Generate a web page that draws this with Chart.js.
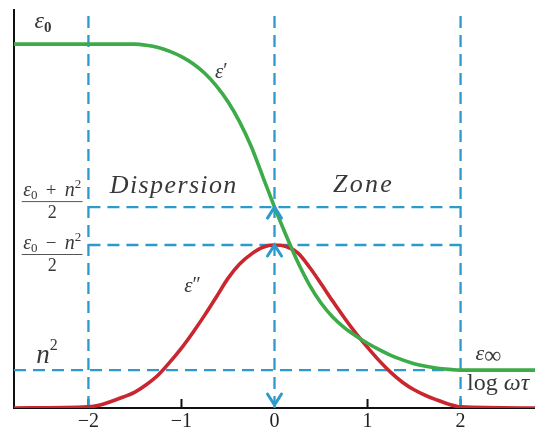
<!DOCTYPE html>
<html>
<head>
<meta charset="utf-8">
<script src="https://cdn.jsdelivr.net/npm/chart.js@4.4.1/dist/chart.umd.min.js"></script>
<style>
  html, body { margin: 0; padding: 0; background: #fff; }
  #wrap { width: 535px; height: 432px; }
</style>
</head>
<body>
<div id="wrap"><canvas id="c"></canvas></div>
<script>
// Debye relaxation: real and imaginary permittivity against log(ωτ)
const logWT = [-2.8, -2.0, -1.875, -1.75, -1.625, -1.5, -1.375, -1.25, -1.125, -1.0, -0.875, -0.75, -0.625, -0.5, -0.375, -0.25, -0.125,
               0, 0.125, 0.25, 0.375, 0.5, 0.625, 0.75, 0.875, 1.0, 1.125, 1.25, 1.375, 1.5, 1.625, 1.75, 1.875, 2.0, 2.8];
const epsReal = [9.6, 9.6, 9.6, 9.6, 9.6, 9.6, 9.57, 9.51, 9.41, 9.27, 9.08, 8.83, 8.5, 8.08, 7.55, 6.9, 6.1,
                 5.3, 4.55, 3.85, 3.25, 2.77, 2.4, 2.12, 1.9, 1.71, 1.54, 1.39, 1.27, 1.17, 1.1, 1.05, 1.02, 1.0, 1.0];
const epsImag = [0, 0.03, 0.08, 0.18, 0.29, 0.42, 0.62, 0.87, 1.21, 1.58, 2.0, 2.45, 2.93, 3.42, 3.8, 4.06, 4.24,
                 4.3, 4.26, 4.09, 3.72, 3.28, 2.82, 2.38, 1.97, 1.6, 1.25, 0.94, 0.68, 0.48, 0.33, 0.21, 0.1, 0.03, 0];

// characteristic levels: ε0, (ε0+n²)/2, (ε0−n²)/2, n²
const levelNames  = ['eps0', 'midHigh', 'midLow', 'nSq'];
const levelValues = [9.6, 5.3, 4.3, 1.0];
const L = Object.fromEntries(levelNames.map((n, i) => [n, levelValues[i]]));

const xTicks = [-2, -1, 0, 1, 2];
const guideX = [-2, 0, 2];
const xRange = [-2.8, 2.8];
const yRange = [0, 10.5];

const GREEN = '#3cab48';
const RED   = '#c9262f';
const BLUE  = '#2c9acb';
const INK   = '#383838';
const SERIF = '"Liberation Serif", "DejaVu Serif", serif';

const pts = (xs, ys) => xs.map((x, i) => ({ x, y: ys[i] }));

const guide = (data) => ({
  data, borderColor: BLUE, borderWidth: 2.3, borderDash: [12, 7],
  pointRadius: 0, tension: 0, fill: false, order: 3
});

const datasets = [
  { label: "ε'", data: pts(logWT, epsReal), borderColor: GREEN, borderWidth: 3.6,
    pointRadius: 0, cubicInterpolationMode: 'monotone', fill: false, order: 0 },
  { label: "ε''", data: pts(logWT, epsImag), borderColor: RED, borderWidth: 3.6,
    pointRadius: 0, cubicInterpolationMode: 'monotone', fill: false, order: 1 },
  ...guideX.map(x => guide([{ x, y: yRange[0] }, { x, y: yRange[1] }])),
  guide([{ x: -2, y: L.midHigh }, { x: 2, y: L.midHigh }]),
  guide([{ x: -2, y: L.midLow }, { x: 2, y: L.midLow }]),
  guide([{ x: xRange[0], y: L.nSq }, { x: 2, y: L.nSq }])
];

// small tick marks standing on the axis
const innerTicks = {
  id: 'innerTicks',
  beforeDatasetsDraw(chart) {
    const { ctx, scales: { x }, chartArea } = chart;
    ctx.save();
    ctx.strokeStyle = '#111';
    ctx.lineWidth = 2;
    xTicks.filter(v => v !== 0).forEach(v => {
      const px = x.getPixelForValue(v);
      ctx.beginPath();
      ctx.moveTo(px, chartArea.bottom);
      ctx.lineTo(px, chartArea.bottom - 9);
      ctx.stroke();
    });
    ctx.restore();
  }
};

function run(ctx, parts, x, y) {
  // parts: [text, font, dy, gapAfter]
  let cx = x;
  parts.forEach(([t, f, dy, g]) => {
    ctx.font = f;
    ctx.fillText(t, cx, y + (dy || 0));
    cx += ctx.measureText(t).width + (g || 0);
  });
  return cx;
}
function runWidth(ctx, parts) {
  let w = 0;
  parts.forEach(([t, f, dy, g]) => { ctx.font = f; w += ctx.measureText(t).width + (g || 0); });
  return w;
}
function spaced(ctx, str, left, right, y, font) {
  ctx.font = font;
  const chars = [...str];
  const ws = chars.map(c => ctx.measureText(c).width);
  const total = ws.reduce((a, b) => a + b, 0);
  const gap = (right - left - total) / (chars.length - 1);
  let cx = left;
  chars.forEach((c, i) => { ctx.fillText(c, cx, y); cx += ws[i] + gap; });
}
function chevron(ctx, x, y, dir) {
  // dir = 1: apex on top, dir = -1: apex at bottom
  ctx.beginPath();
  ctx.moveTo(x - 7, y + dir * 11);
  ctx.lineTo(x, y);
  ctx.lineTo(x + 7, y + dir * 11);
  ctx.stroke();
}

const annotations = {
  id: 'annotations',
  afterDatasetsDraw(chart) {
    const { ctx, scales: { x, y } } = chart;
    const X = v => x.getPixelForValue(v);
    const Y = v => y.getPixelForValue(v);
    ctx.save();

    // arrows on the ωτ = 1 line
    ctx.strokeStyle = BLUE;
    ctx.lineWidth = 3;
    ctx.lineCap = 'round';
    chevron(ctx, X(0), Y(L.midHigh), 1);
    chevron(ctx, X(0), Y(L.midLow), 1);
    chevron(ctx, X(0), Y(0) - 3, -1);

    ctx.fillStyle = INK;
    ctx.textBaseline = 'alphabetic';
    const it = s => `italic ${s}px ${SERIF}`;
    const up = s => `${s}px ${SERIF}`;
    const bd = s => `bold ${s}px ${SERIF}`;

    // ε0 at the top plateau
    run(ctx, [['ε', it(24)], ['0', bd(15), 4]], X(-2.58), Y(L.eps0) - 16);
    // ε′ beside the falling branch
    run(ctx, [['ε', it(21)], ['′', up(20), -1]], X(-0.64), Y(8.7));
    // ε″ beside the loss peak
    run(ctx, [['ε', it(21)], ['″', up(20), -1]], X(-0.97), Y(3.06));
    // n² just above the high-frequency level
    run(ctx, [['n', it(27)], ['2', up(16), -13]], X(-2.56), Y(L.nSq) - 7);
    // ε∞ on the right plateau
    run(ctx, [['ε', it(22)], ['∞', up(24), 3]], X(2.16), Y(L.nSq) - 10);
    // axis quantity
    run(ctx, [['log ', up(24)], ['ωτ', it(24)]], X(2.07), Y(0) - 18);

    // zone captions
    spaced(ctx, 'Dispersion', X(-1.77), X(-0.41), Y(L.midHigh) - 14, it(26));
    spaced(ctx, 'Zone', X(0.63), X(1.26), Y(L.midHigh) - 15, it(26));

    // level fractions on the left
    const frac = (sign, barY) => {
      const cx = X(-2.39);
      const num = [['ε', it(20)], ['0', up(13), 3, 1], [sign, up(19), 0, 1], ['n', it(20)], ['2', up(13), -8]];
      const w = runWidth(ctx, num);
      const extra = Math.max(0, (58 - w) / 2);
      num[1][3] += extra; num[2][3] += extra;
      run(ctx, num, cx - 29, barY - 5);
      ctx.strokeStyle = '#555';
      ctx.lineWidth = 1;
      ctx.beginPath();
      ctx.moveTo(cx - 30, barY + 0.5);
      ctx.lineTo(cx + 30, barY + 0.5);
      ctx.stroke();
      ctx.font = up(18);
      ctx.textAlign = 'center';
      ctx.fillText('2', cx, barY + 17);
      ctx.textAlign = 'left';
    };
    frac('+', Y(L.midHigh) - 6);
    frac('−', Y(L.midLow) + 9);

    ctx.restore();
  }
};

new Chart(document.getElementById('c'), {
  type: 'line',
  data: { datasets },
  options: {
    responsive: true,
    maintainAspectRatio: false,
    animation: false,
    events: [],
    layout: { padding: { top: 10, right: 0, left: 0, bottom: 0 } },
    plugins: { legend: { display: false }, tooltip: { enabled: false } },
    scales: {
      x: {
        type: 'linear', min: xRange[0], max: xRange[1],
        afterBuildTicks: s => { s.ticks = xTicks.map(v => ({ value: v })); },
        afterFit: s => { s.height = 24; },
        grid: { display: false },
        border: { display: true, color: '#111', width: 2 },
        ticks: {
          padding: -6, color: '#222',
          font: { family: SERIF, size: 20 },
          callback: v => (v < 0 ? '−' : '') + Math.abs(v),
          maxRotation: 0
        }
      },
      y: {
        type: 'linear', min: yRange[0], max: yRange[1],
        afterFit: s => { s.width = 14; },
        grid: { display: false },
        border: { display: true, color: '#111', width: 2 },
        ticks: { display: false }
      }
    }
  },
  plugins: [innerTicks, annotations]
});
</script>
</body>
</html>
